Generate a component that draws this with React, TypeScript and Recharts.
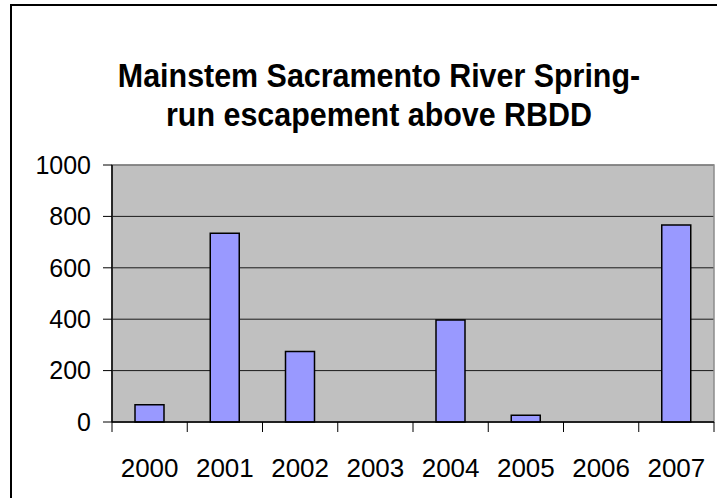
import React from 'react';
import { BarChart, Bar, XAxis, YAxis, CartesianGrid, ReferenceArea } from 'recharts';

const years = ['2000', '2001', '2002', '2003', '2004', '2005', '2006', '2007'];
const escapement = [67, 734, 274, 0, 397, 26, 0, 767];
const yTicks = [0, 200, 400, 600, 800, 1000];
const titleLines = ['Mainstem Sacramento River Spring-', 'run escapement above RBDD'];

const data = years.map((y, i) => ({ year: y, value: escapement[i] }));

const W = 717;
const H = 498;
const MARGIN = { top: 165, right: 3, bottom: 46, left: 52 };
const PLOT_W = W - MARGIN.left - MARGIN.right - 60;
const FONT = "'Liberation Sans', Arial, sans-serif";

const XTick = (props: any) => {
  const { x, y, payload, index } = props;
  const band = (props.width && props.width > 100 ? props.width : PLOT_W) / years.length;
  return (
    <g>
      <line x1={x - band / 2} y1={y} x2={x - band / 2} y2={y + 10} stroke="#000" strokeWidth={1} />
      {index === years.length - 1 && (
        <line x1={x + band / 2} y1={y} x2={x + band / 2} y2={y + 10} stroke="#000" strokeWidth={1} />
      )}
      <text x={x} y={y + 55} textAnchor="middle" fontSize={26} fill="#000" fontFamily={FONT}>
        {payload.value}
      </text>
    </g>
  );
};

export default function App() {
  return (
    <div style={{ position: 'absolute', left: 0, top: 0, width: W, height: H, background: '#fff', overflow: 'hidden' }}>
      <div
        style={{
          position: 'absolute',
          left: 10,
          top: 4,
          width: 900,
          height: 700,
          borderLeft: '2px solid #000',
          borderTop: '2px solid #000',
        }}
      />
      <svg style={{ position: 'absolute', left: 0, top: 0 }} width={W} height={H}>
        {titleLines.map((t, i) => (
          <text
            key={i}
            transform={`translate(379, ${87 + i * 39}) scale(0.895, 1)`}
            x={0}
            y={0}
            textAnchor="middle"
            fontSize={34}
            fontWeight="bold"
            fontFamily={FONT}
            fill="#000"
          >
            {t}
          </text>
        ))}
      </svg>
      <div style={{ position: 'absolute', left: 0, top: 0 }}>
        <BarChart width={W} height={H} data={data} margin={MARGIN} barSize={29}>
          <CartesianGrid vertical={false} fill="#C0C0C0" fillOpacity={1} stroke="#1a1a1a" strokeWidth={1} />
          <ReferenceArea y1={0} y2={1000} fill="none" stroke="#8c8c8c" strokeWidth={1.5} ifOverflow="visible" />
          <XAxis
            dataKey="year"
            tickSize={0}
            tickMargin={0}
            tickLine={false}
            axisLine={{ stroke: '#000', strokeWidth: 1.5 }}
            tick={<XTick />}
            height={30}
            interval={0}
          />
          <YAxis
            domain={[0, 1000]}
            ticks={yTicks}
            interval={0}
            width={60}
            tickSize={9}
            tickMargin={12}
            axisLine={{ stroke: '#000', strokeWidth: 1.5 }}
            tickLine={{ stroke: '#000', strokeWidth: 1 }}
            tick={{ fill: '#000', fontSize: 25, fontFamily: FONT }}
          />
          <Bar dataKey="value" fill="#9999FF" stroke="#000" strokeWidth={1.5} isAnimationActive={false} />
        </BarChart>
      </div>
    </div>
  );
}
